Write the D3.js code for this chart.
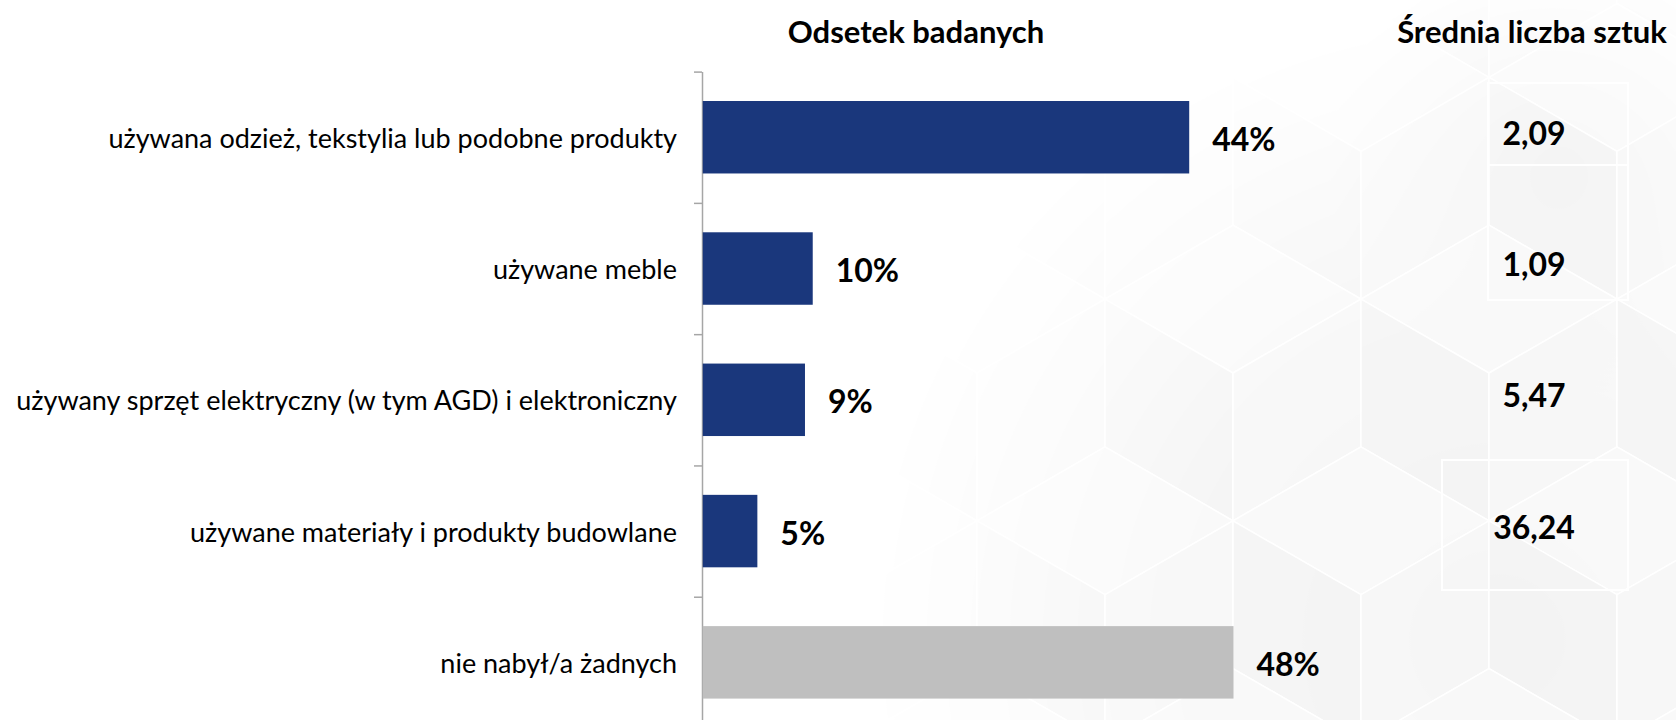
<!DOCTYPE html>
<html>
<head>
<meta charset="utf-8">
<script src="https://cdn.jsdelivr.net/npm/d3@7/dist/d3.min.js"></script>
<style>
  html, body { margin: 0; padding: 0; background: #ffffff; }
  svg { display: block; }
  text { font-family: Lato, "Noto Sans", sans-serif; fill: #000; }
</style>
</head>
<body>
<svg id="chart" width="1676" height="720"></svg>
<script>
// ---- data ----
const categories = [
  "używana odzież, tekstylia lub podobne produkty",
  "używane meble",
  "używany sprzęt elektryczny (w tym AGD) i elektroniczny",
  "używane materiały i produkty budowlane",
  "nie nabył/a żadnych"
];
const shares = [44, 10, 9.3, 5, 48];             // Odsetek badanych (%)
const shareLabels = ["44%", "10%", "9%", "5%", "48%"];
const avgCategories = categories.slice(0, 4);
const avgPieces = ["2,09", "1,09", "5,47", "36,24"]; // Średnia liczba sztuk
const titleLeft = "Odsetek badanych";
const titleRight = "Średnia liczba sztuk";

const W = 1676, H = 720;
const svg = d3.select("#chart");

// ---- decorative background (isometric cubes) ----
const defs = svg.append("defs");
const rg = defs.append("radialGradient").attr("id", "fade")
  .attr("gradientUnits", "userSpaceOnUse")
  .attr("cx", 1500).attr("cy", 640).attr("r", 640);
rg.append("stop").attr("offset", "0%").attr("stop-color", "#fff").attr("stop-opacity", 1);
rg.append("stop").attr("offset", "50%").attr("stop-color", "#fff").attr("stop-opacity", 0.8);
rg.append("stop").attr("offset", "100%").attr("stop-color", "#fff").attr("stop-opacity", 0);
const rg2 = defs.append("radialGradient").attr("id", "fade2")
  .attr("gradientUnits", "userSpaceOnUse")
  .attr("cx", 1560).attr("cy", 170).attr("r", 230);
rg2.append("stop").attr("offset", "0%").attr("stop-color", "#fff").attr("stop-opacity", 0.9);
rg2.append("stop").attr("offset", "100%").attr("stop-color", "#fff").attr("stop-opacity", 0);
const mask = defs.append("mask").attr("id", "bgmask");
mask.append("rect").attr("x", 0).attr("y", 0).attr("width", W).attr("height", H).attr("fill", "url(#fade)");
mask.append("rect").attr("x", 0).attr("y", 0).attr("width", W).attr("height", H).attr("fill", "url(#fade2)");

const bg = svg.append("g").attr("mask", "url(#bgmask)");
const cw = 128, L = cw / Math.cos(Math.PI / 6);
const hexes = [];
for (let r = -2; r < 6; r++) {
  for (let c = -4; c < 6; c++) {
    const cx = 1233 + c * 2 * cw + (r % 2 !== 0 ? cw : 0);
    const cy = 373 + r * 1.5 * L;
    hexes.push({cx, cy});
  }
}
const faces = [];
hexes.forEach(h => {
  const {cx, cy} = h;
  faces.push({pts: [[cx, cy - L], [cx + cw, cy - L / 2], [cx, cy], [cx - cw, cy - L / 2]], fill: "#f8f8f8"});
  faces.push({pts: [[cx - cw, cy - L / 2], [cx, cy], [cx, cy + L], [cx - cw, cy + L / 2]], fill: "#f3f3f3"});
  faces.push({pts: [[cx, cy], [cx + cw, cy - L / 2], [cx + cw, cy + L / 2], [cx, cy + L]], fill: "#f6f6f6"});
});
bg.selectAll("polygon").data(faces).join("polygon")
  .attr("points", d => d.pts.map(p => p.join(",")).join(" "))
  .attr("fill", d => d.fill)
  .attr("stroke", "#ffffff").attr("stroke-width", 1.5);
// white cell borders of the right-hand column
const cellRects = [[1488, 83, 140, 82], [1488, 165, 140, 135], [1442, 460, 186, 130]];
bg.selectAll("rect.cell").data(cellRects).join("rect").attr("class", "cell")
  .attr("x", d => d[0]).attr("y", d => d[1]).attr("width", d => d[2]).attr("height", d => d[3])
  .attr("fill", "none").attr("stroke", "#ffffff").attr("stroke-width", 2);

// ---- scales ----
const y = d3.scaleBand().domain(categories).range([71.6, 728]).paddingInner(0.448).paddingOuter(0.224);
const x = d3.scaleLinear().domain([0, 48]).range([702, 1233.5]);
const boundary = d3.scaleLinear().domain([0, categories.length]).range([71.6, 728]);

// ---- axis ----
const axis = svg.append("g").attr("transform", "translate(702,0)")
  .call(d3.axisLeft(boundary).tickValues(d3.range(0, categories.length)).tickFormat("").tickSize(8).tickSizeOuter(0));
axis.select(".domain").attr("stroke", "#a6a6a6").attr("stroke-width", 1.5);
axis.selectAll(".tick line").attr("stroke", "#a6a6a6").attr("stroke-width", 1.5);

// ---- bars ----
svg.append("g").selectAll("rect").data(categories).join("rect")
  .attr("x", x(0) + 0.75)
  .attr("y", d => y(d))
  .attr("width", (d, i) => x(shares[i]) - x(0) - 0.75)
  .attr("height", y.bandwidth())
  .attr("fill", (d, i) => i === categories.length - 1 ? "#bfbfbf" : "#1a377c");

// ---- category labels ----
svg.append("g").selectAll("text").data(categories).join("text")
  .attr("x", 677)
  .attr("y", d => y(d) + y.bandwidth() / 2)
  .attr("text-anchor", "end")
  .attr("dominant-baseline", "central")
  .style("font-size", "27px")
  .text(d => d);

// ---- value labels ----
svg.append("g").selectAll("text").data(categories).join("text")
  .attr("x", (d, i) => x(shares[i]) + 23)
  .attr("y", d => y(d) + y.bandwidth() / 2 + 1)
  .attr("dominant-baseline", "central")
  .style("font-size", "32px").style("font-weight", "700")
  .text((d, i) => shareLabels[i]);

// ---- right column ----
svg.append("g").selectAll("text").data(avgCategories).join("text")
  .attr("x", 1534)
  .attr("y", d => y(d) + y.bandwidth() / 2 - 5)
  .attr("text-anchor", "middle")
  .attr("dominant-baseline", "central")
  .style("font-size", "32px").style("font-weight", "700")
  .text((d, i) => avgPieces[i]);

// ---- titles ----
svg.append("text").attr("x", 916).attr("y", 31)
  .attr("text-anchor", "middle").attr("dominant-baseline", "central")
  .style("font-size", "31px").style("font-weight", "700").text(titleLeft);
svg.append("text").attr("x", 1532).attr("y", 31)
  .attr("text-anchor", "middle").attr("dominant-baseline", "central")
  .style("font-size", "31px").style("font-weight", "700").text(titleRight);
</script>
</body>
</html>
